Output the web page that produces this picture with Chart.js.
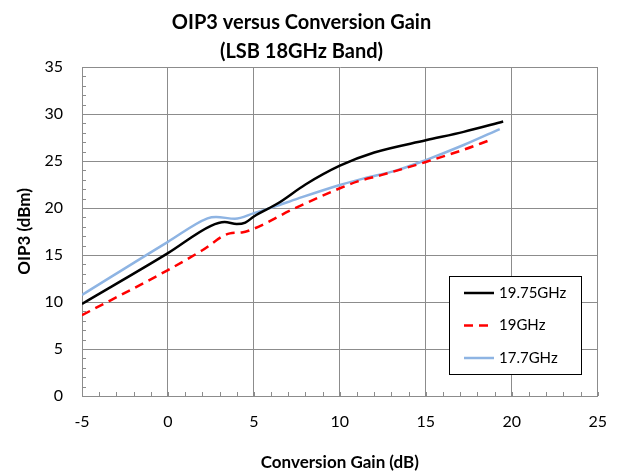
<!DOCTYPE html>
<html>
<head>
<meta charset="utf-8">
<script src="https://cdn.jsdelivr.net/npm/chart.js@4"></script>
<style>
html,body{margin:0;padding:0;background:#fff;}
#wrap{width:623px;height:473px;position:relative;}
</style>
</head>
<body>
<div id="wrap"><canvas id="c"></canvas></div>
<script>
// ---- data ----
const titleLines = ['OIP3 versus Conversion Gain', '(LSB 18GHz Band)'];
const xTitle = 'Conversion Gain (dB)';
const yTitle = 'OIP3 (dBm)';
const xTicks = [-5, 0, 5, 10, 15, 20, 25];
const yTicks = [0, 5, 10, 15, 20, 25, 30, 35];

const seriesNames = ['19.75GHz', '19GHz', '17.7GHz'];

const gain1975 = [-5, 0, 2.5, 3.3, 4.0, 4.5, 5, 6.4, 8, 10, 12, 15, 17.2, 19.5];
const oip1975  = [9.8, 15.2, 18.1, 18.5, 18.3, 18.45, 19.1, 20.5, 22.5, 24.5, 25.9, 27.2, 28.1, 29.2];

const gain19 = [-5, 0, 2, 3.6, 4.3, 5, 7.3, 10, 11, 12.4, 15, 17.2, 18.7];
const oip19  = [8.6, 13.4, 15.5, 17.3, 17.4, 17.8, 19.9, 22.1, 22.8, 23.5, 24.9, 26.2, 27.2];

const gain177 = [-5, 0, 2.3, 2.8, 3.9, 5, 6.2, 7.55, 10, 11.4, 13.3, 15, 17.2, 19.3];
const oip177  = [10.75, 16.4, 18.9, 19.05, 18.85, 19.45, 20.15, 21.0, 22.45, 23.15, 24.0, 25.1, 26.7, 28.4];

const FONT = 'Lato, "Open Sans", sans-serif';
const toPts = (xs, ys) => xs.map((x, i) => ({x: x, y: ys[i]}));

const extras = {
  id: 'extras',
  beforeDatasetsDraw(chart) {
    const ctx = chart.ctx, xs = chart.scales.x, ys = chart.scales.y;
    const a = chart.chartArea;
    ctx.save();
    ctx.strokeStyle = '#8c8c8c';
    ctx.lineWidth = 1;
    ctx.beginPath();
    for (let v = xs.min; v <= xs.max; v += 1) {
      const px = Math.round(xs.getPixelForValue(v)) + 0.5;
      ctx.moveTo(px, a.bottom); ctx.lineTo(px, a.bottom - 4);
    }
    for (let v = ys.min; v <= ys.max; v += 1) {
      const py = Math.round(ys.getPixelForValue(v)) + 0.5;
      ctx.moveTo(a.left, py); ctx.lineTo(a.left + 4, py);
    }
    ctx.stroke();
    ctx.restore();
  },
  afterDatasetsDraw(chart) {
    const ctx = chart.ctx;
    const bx = 449.5, by = 276.5, bw = 132, bh = 98;
    ctx.save();
    ctx.fillStyle = '#fff';
    ctx.fillRect(bx, by, bw, bh);
    ctx.strokeStyle = '#000';
    ctx.lineWidth = 1;
    ctx.strokeRect(bx, by, bw, bh);
    const rows = [293, 325.5, 358];
    chart.data.datasets.forEach((ds, i) => {
      const y = rows[i];
      ctx.beginPath();
      ctx.strokeStyle = ds.borderColor;
      ctx.lineWidth = ds.borderWidth;
      ctx.setLineDash(ds.borderDash || []);
      ctx.moveTo(464, y); ctx.lineTo(494, y);
      ctx.stroke();
      ctx.setLineDash([]);
      ctx.fillStyle = '#000';
      ctx.font = '15px ' + FONT;
      ctx.textBaseline = 'middle';
      ctx.textAlign = 'left';
      ctx.fillText(ds.label, 499, y);
    });
    ctx.restore();
  }
};

new Chart(document.getElementById('c'), {
  type: 'scatter',
  data: {
    datasets: [
      {label: seriesNames[0], data: toPts(gain1975, oip1975), borderColor: '#000000', borderWidth: 2.5, showLine: true, pointRadius: 0, tension: 0.35, cubicInterpolationMode: 'monotone'},
      {label: seriesNames[1], data: toPts(gain19, oip19), borderColor: '#ff0000', borderWidth: 2.5, borderDash: [9, 6], showLine: true, pointRadius: 0, tension: 0.35, cubicInterpolationMode: 'monotone'},
      {label: seriesNames[2], data: toPts(gain177, oip177), borderColor: '#8eb4e3', borderWidth: 2.5, showLine: true, pointRadius: 0, tension: 0.35, cubicInterpolationMode: 'monotone'}
    ]
  },
  options: {
    responsive: true,
    maintainAspectRatio: false,
    animation: false,
    layout: {padding: {left: 0, right: 20, top: 0, bottom: 0}},
    plugins: {
      legend: {display: false},
      tooltip: {enabled: false},
      title: {
        display: true,
        text: titleLines,
        color: '#000',
        font: {family: FONT, size: 20, weight: 'bold', lineHeight: 1.45},
        padding: {top: 8, bottom: 1}
      }
    },
    scales: {
      x: {
        type: 'linear', min: -5, max: 25,
        afterFit(s) { s.height = 77; },
        afterBuildTicks(s) { s.ticks = xTicks.map(v => ({value: v})); },
        grid: {color: '#8c8c8c', lineWidth: 1, drawTicks: false},
        border: {color: '#8c8c8c'},
        ticks: {color: '#000', padding: 16, font: {family: FONT, size: 16}},
        title: {display: true, text: xTitle, color: '#000', padding: {top: 0, bottom: 0}, font: {family: FONT, size: 17, weight: 'bold', lineHeight: 1.2}}
      },
      y: {
        type: 'linear', min: 0, max: 35,
        afterFit(s) { s.width = 82; },
        afterBuildTicks(s) { s.ticks = yTicks.map(v => ({value: v})); },
        grid: {color: '#8c8c8c', lineWidth: 1, drawTicks: false},
        border: {color: '#8c8c8c'},
        ticks: {color: '#000', padding: 19, font: {family: FONT, size: 16}},
        title: {display: true, text: yTitle, color: '#000', padding: {top: 14, bottom: 0}, font: {family: FONT, size: 17, weight: 'bold', lineHeight: 1.2}}
      }
    }
  },
  plugins: [extras]
});
</script>
</body>
</html>
